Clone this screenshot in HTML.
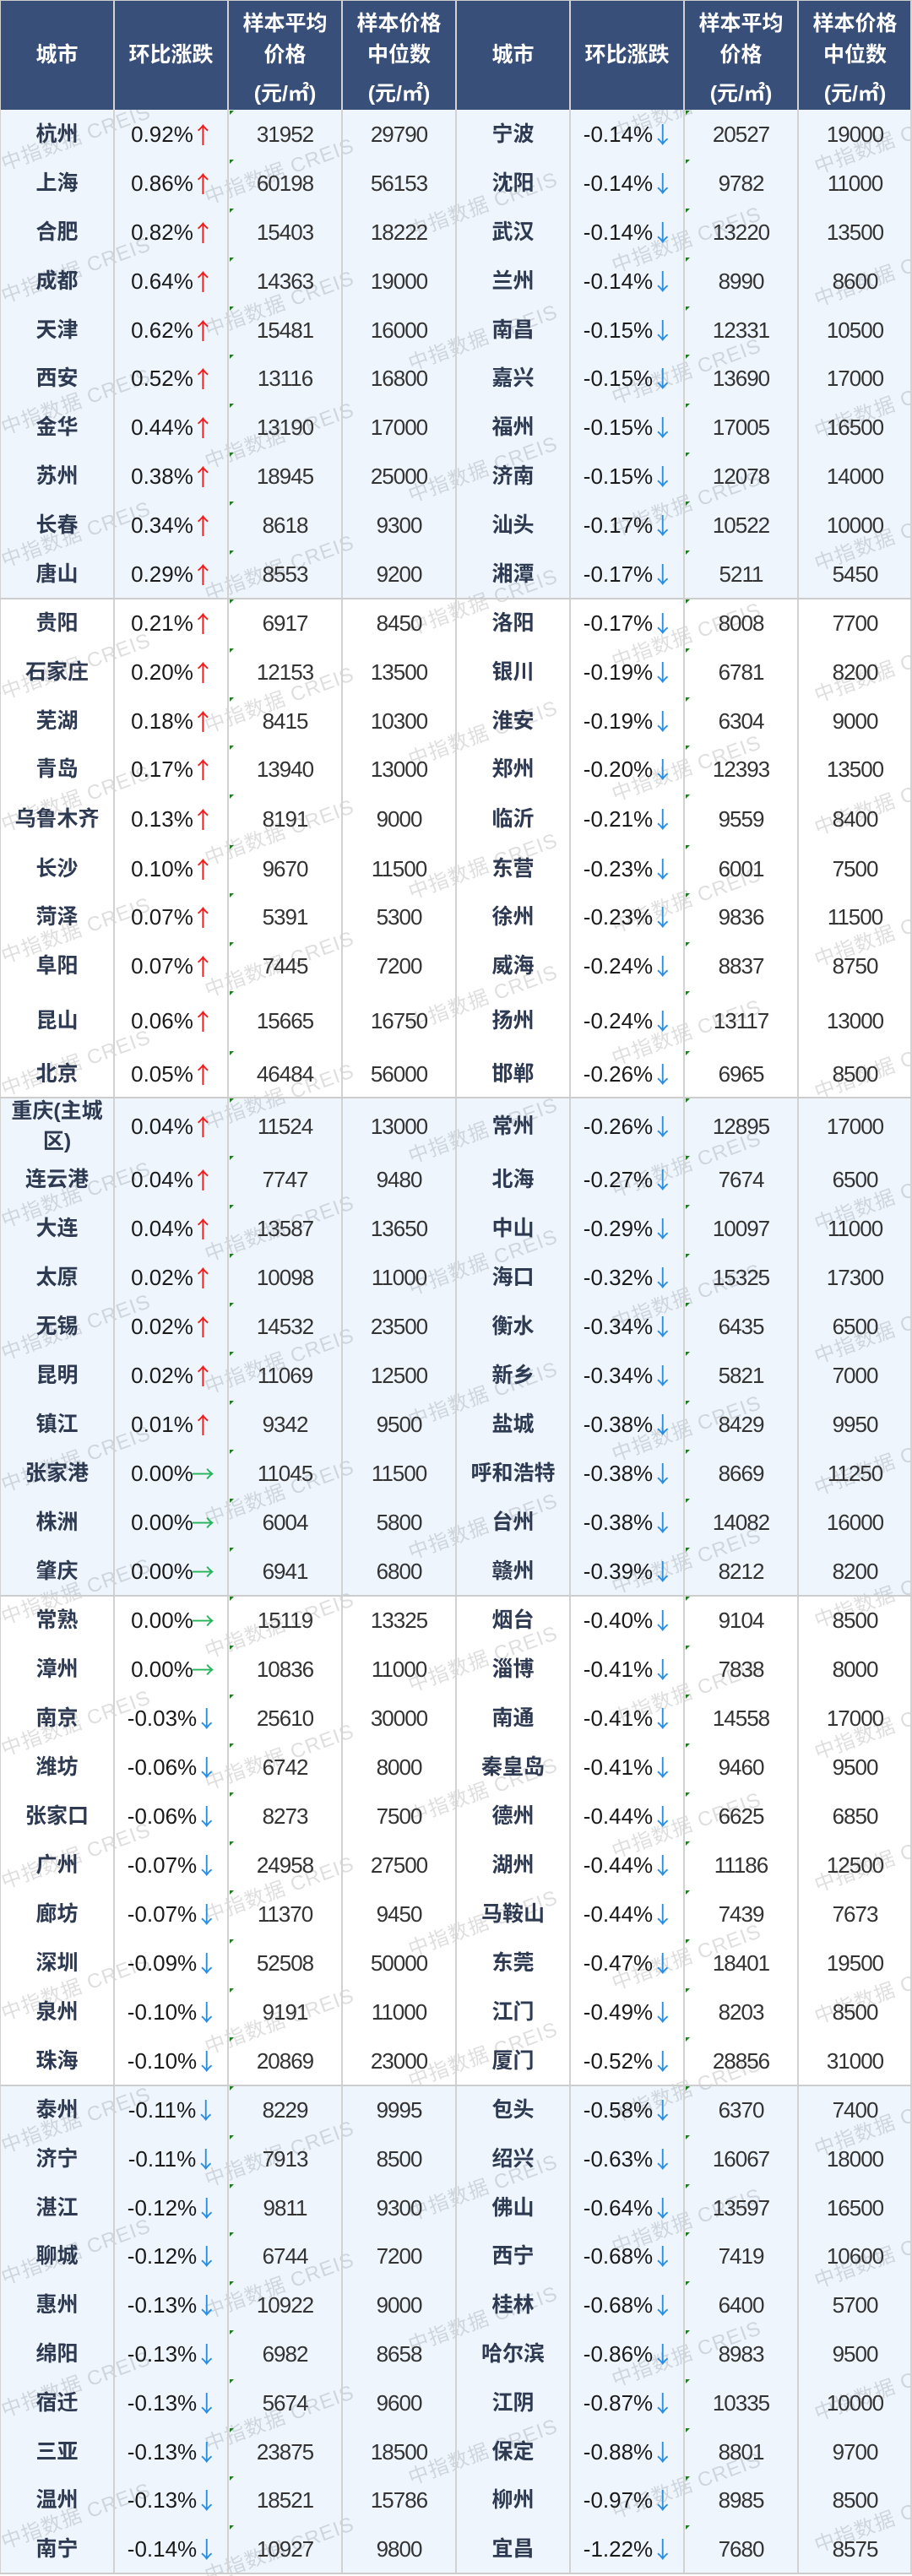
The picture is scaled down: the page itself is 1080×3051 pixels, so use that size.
<!DOCTYPE html>
<html><head><meta charset="utf-8">
<style>
html,body{margin:0;padding:0;width:1080px;height:3051px;overflow:hidden;background:#fff}
#t{position:relative;width:1080px;height:3051px;overflow:hidden;background:#fff;font-family:"Liberation Sans","Noto Sans CJK SC",sans-serif}
.bg{position:absolute;left:0;width:1080px;background:#eef5fd;z-index:0}
.wm{position:absolute;left:0;top:0;width:1080px;height:3051px;overflow:hidden;z-index:1}
.hdr{position:absolute;left:0;top:0;width:1080px;height:130px;background:#384f7a;z-index:2}
.hc{position:absolute;top:0;width:135px;height:130px;color:#fff;font-weight:bold;font-size:25px}
.hc div{position:absolute;left:0;width:135px;text-align:center;line-height:36px;white-space:nowrap}
.row{position:absolute;left:0;width:1080px;display:flex;z-index:3}
.row>div{width:135px;flex:none;display:flex;align-items:center;justify-content:center;position:relative;white-space:nowrap;line-height:30px}
.c{font-weight:bold;font-size:25px;color:#2e3a52}
.c2{line-height:36px!important;text-align:center}
.p{font-size:26px;color:#1a1a1a}
.n{font-size:26px;color:#333;letter-spacing:-1px}
.g::before{content:"";position:absolute;left:2px;top:1px;border-top:5px solid #1f7f1f;border-right:5px solid transparent}
.u,.d,.e{font-family:"Noto Sans CJK SC","Liberation Sans",sans-serif;font-size:27px;margin-left:-2px;margin-right:-4px;letter-spacing:0}
.u{color:#f21b1b}.d{color:#2a8ee0}.e{color:#25b45a}
.vl{position:absolute;top:0;width:2px;height:3049px;background:#d2d2d2;z-index:4}
.hl{position:absolute;left:0;width:1080px;height:2px;background:#cdcdcd;z-index:4}
.wc{position:absolute}
.w{height:156.5px;position:relative;width:10px}
.w span{position:absolute;left:0;bottom:0;transform:rotate(-20deg);transform-origin:0 100%;font-size:24px;line-height:24px;color:rgba(0,0,0,.13);white-space:nowrap;letter-spacing:1px}
</style></head><body>
<div id="t">
<div class="bg" style="top:130px;height:579px"></div>
<div class="bg" style="top:1300px;height:590px"></div>
<div class="bg" style="top:2470px;height:578px"></div>

<div class="wm">
<div class="wc" style="left:7px;top:-106px"><div class="w"><span>中指数据 CREIS</span></div><div class="w"><span>中指数据 CREIS</span></div><div class="w"><span>中指数据 CREIS</span></div><div class="w"><span>中指数据 CREIS</span></div><div class="w"><span>中指数据 CREIS</span></div><div class="w"><span>中指数据 CREIS</span></div><div class="w"><span>中指数据 CREIS</span></div><div class="w"><span>中指数据 CREIS</span></div><div class="w"><span>中指数据 CREIS</span></div><div class="w"><span>中指数据 CREIS</span></div><div class="w"><span>中指数据 CREIS</span></div><div class="w"><span>中指数据 CREIS</span></div><div class="w"><span>中指数据 CREIS</span></div><div class="w"><span>中指数据 CREIS</span></div><div class="w"><span>中指数据 CREIS</span></div><div class="w"><span>中指数据 CREIS</span></div><div class="w"><span>中指数据 CREIS</span></div><div class="w"><span>中指数据 CREIS</span></div><div class="w"><span>中指数据 CREIS</span></div><div class="w"><span>中指数据 CREIS</span></div></div>
<div class="wc" style="left:248px;top:-66px"><div class="w"><span>中指数据 CREIS</span></div><div class="w"><span>中指数据 CREIS</span></div><div class="w"><span>中指数据 CREIS</span></div><div class="w"><span>中指数据 CREIS</span></div><div class="w"><span>中指数据 CREIS</span></div><div class="w"><span>中指数据 CREIS</span></div><div class="w"><span>中指数据 CREIS</span></div><div class="w"><span>中指数据 CREIS</span></div><div class="w"><span>中指数据 CREIS</span></div><div class="w"><span>中指数据 CREIS</span></div><div class="w"><span>中指数据 CREIS</span></div><div class="w"><span>中指数据 CREIS</span></div><div class="w"><span>中指数据 CREIS</span></div><div class="w"><span>中指数据 CREIS</span></div><div class="w"><span>中指数据 CREIS</span></div><div class="w"><span>中指数据 CREIS</span></div><div class="w"><span>中指数据 CREIS</span></div><div class="w"><span>中指数据 CREIS</span></div><div class="w"><span>中指数据 CREIS</span></div><div class="w"><span>中指数据 CREIS</span></div></div>
<div class="wc" style="left:489px;top:-26px"><div class="w"><span>中指数据 CREIS</span></div><div class="w"><span>中指数据 CREIS</span></div><div class="w"><span>中指数据 CREIS</span></div><div class="w"><span>中指数据 CREIS</span></div><div class="w"><span>中指数据 CREIS</span></div><div class="w"><span>中指数据 CREIS</span></div><div class="w"><span>中指数据 CREIS</span></div><div class="w"><span>中指数据 CREIS</span></div><div class="w"><span>中指数据 CREIS</span></div><div class="w"><span>中指数据 CREIS</span></div><div class="w"><span>中指数据 CREIS</span></div><div class="w"><span>中指数据 CREIS</span></div><div class="w"><span>中指数据 CREIS</span></div><div class="w"><span>中指数据 CREIS</span></div><div class="w"><span>中指数据 CREIS</span></div><div class="w"><span>中指数据 CREIS</span></div><div class="w"><span>中指数据 CREIS</span></div><div class="w"><span>中指数据 CREIS</span></div><div class="w"><span>中指数据 CREIS</span></div></div>
<div class="wc" style="left:730px;top:-142px"><div class="w"><span>中指数据 CREIS</span></div><div class="w"><span>中指数据 CREIS</span></div><div class="w"><span>中指数据 CREIS</span></div><div class="w"><span>中指数据 CREIS</span></div><div class="w"><span>中指数据 CREIS</span></div><div class="w"><span>中指数据 CREIS</span></div><div class="w"><span>中指数据 CREIS</span></div><div class="w"><span>中指数据 CREIS</span></div><div class="w"><span>中指数据 CREIS</span></div><div class="w"><span>中指数据 CREIS</span></div><div class="w"><span>中指数据 CREIS</span></div><div class="w"><span>中指数据 CREIS</span></div><div class="w"><span>中指数据 CREIS</span></div><div class="w"><span>中指数据 CREIS</span></div><div class="w"><span>中指数据 CREIS</span></div><div class="w"><span>中指数据 CREIS</span></div><div class="w"><span>中指数据 CREIS</span></div><div class="w"><span>中指数据 CREIS</span></div><div class="w"><span>中指数据 CREIS</span></div><div class="w"><span>中指数据 CREIS</span></div></div>
<div class="wc" style="left:970px;top:-102px"><div class="w"><span>中指数据 CREIS</span></div><div class="w"><span>中指数据 CREIS</span></div><div class="w"><span>中指数据 CREIS</span></div><div class="w"><span>中指数据 CREIS</span></div><div class="w"><span>中指数据 CREIS</span></div><div class="w"><span>中指数据 CREIS</span></div><div class="w"><span>中指数据 CREIS</span></div><div class="w"><span>中指数据 CREIS</span></div><div class="w"><span>中指数据 CREIS</span></div><div class="w"><span>中指数据 CREIS</span></div><div class="w"><span>中指数据 CREIS</span></div><div class="w"><span>中指数据 CREIS</span></div><div class="w"><span>中指数据 CREIS</span></div><div class="w"><span>中指数据 CREIS</span></div><div class="w"><span>中指数据 CREIS</span></div><div class="w"><span>中指数据 CREIS</span></div><div class="w"><span>中指数据 CREIS</span></div><div class="w"><span>中指数据 CREIS</span></div><div class="w"><span>中指数据 CREIS</span></div><div class="w"><span>中指数据 CREIS</span></div></div>
</div>

<div class="hdr">
<div class="hc" style="left:0"><div style="top:47px">城市</div></div>
<div class="hc" style="left:135px"><div style="top:47px">环比涨跌</div></div>
<div class="hc" style="left:270px"><div style="top:10px">样本平均</div><div style="top:47px">价格</div><div style="top:93px">(元/㎡)</div></div>
<div class="hc" style="left:405px"><div style="top:10px">样本价格</div><div style="top:47px">中位数</div><div style="top:93px">(元/㎡)</div></div>
<div class="hc" style="left:540px"><div style="top:47px">城市</div></div>
<div class="hc" style="left:675px"><div style="top:47px">环比涨跌</div></div>
<div class="hc" style="left:810px"><div style="top:10px">样本平均</div><div style="top:47px">价格</div><div style="top:93px">(元/㎡)</div></div>
<div class="hc" style="left:945px"><div style="top:10px">样本价格</div><div style="top:47px">中位数</div><div style="top:93px">(元/㎡)</div></div>
</div>

<!-- Group 1 -->
<div class="row" style="top:130px;height:58px"><div class="c">杭州</div><div class="p">0.92%<span class="u">↑</span></div><div class="n g">31952</div><div class="n">29790</div><div class="c">宁波</div><div class="p">-0.14%<span class="d">↓</span></div><div class="n g">20527</div><div class="n">19000</div></div>
<div class="row" style="top:188px;height:58px"><div class="c">上海</div><div class="p">0.86%<span class="u">↑</span></div><div class="n g">60198</div><div class="n">56153</div><div class="c">沈阳</div><div class="p">-0.14%<span class="d">↓</span></div><div class="n g">9782</div><div class="n">11000</div></div>
<div class="row" style="top:246px;height:58px"><div class="c">合肥</div><div class="p">0.82%<span class="u">↑</span></div><div class="n g">15403</div><div class="n">18222</div><div class="c">武汉</div><div class="p">-0.14%<span class="d">↓</span></div><div class="n g">13220</div><div class="n">13500</div></div>
<div class="row" style="top:304px;height:58px"><div class="c">成都</div><div class="p">0.64%<span class="u">↑</span></div><div class="n g">14363</div><div class="n">19000</div><div class="c">兰州</div><div class="p">-0.14%<span class="d">↓</span></div><div class="n g">8990</div><div class="n">8600</div></div>
<div class="row" style="top:362px;height:57px"><div class="c">天津</div><div class="p">0.62%<span class="u">↑</span></div><div class="n g">15481</div><div class="n">16000</div><div class="c">南昌</div><div class="p">-0.15%<span class="d">↓</span></div><div class="n g">12331</div><div class="n">10500</div></div>
<div class="row" style="top:419px;height:58px"><div class="c">西安</div><div class="p">0.52%<span class="u">↑</span></div><div class="n g">13116</div><div class="n">16800</div><div class="c">嘉兴</div><div class="p">-0.15%<span class="d">↓</span></div><div class="n g">13690</div><div class="n">17000</div></div>
<div class="row" style="top:477px;height:58px"><div class="c">金华</div><div class="p">0.44%<span class="u">↑</span></div><div class="n g">13190</div><div class="n">17000</div><div class="c">福州</div><div class="p">-0.15%<span class="d">↓</span></div><div class="n g">17005</div><div class="n">16500</div></div>
<div class="row" style="top:535px;height:58px"><div class="c">苏州</div><div class="p">0.38%<span class="u">↑</span></div><div class="n g">18945</div><div class="n">25000</div><div class="c">济南</div><div class="p">-0.15%<span class="d">↓</span></div><div class="n g">12078</div><div class="n">14000</div></div>
<div class="row" style="top:593px;height:58px"><div class="c">长春</div><div class="p">0.34%<span class="u">↑</span></div><div class="n g">8618</div><div class="n">9300</div><div class="c">汕头</div><div class="p">-0.17%<span class="d">↓</span></div><div class="n g">10522</div><div class="n">10000</div></div>
<div class="row" style="top:651px;height:58px"><div class="c">唐山</div><div class="p">0.29%<span class="u">↑</span></div><div class="n g">8553</div><div class="n">9200</div><div class="c">湘潭</div><div class="p">-0.17%<span class="d">↓</span></div><div class="n g">5211</div><div class="n">5450</div></div>

<!-- Group 2 -->
<div class="row" style="top:709px;height:58px"><div class="c">贵阳</div><div class="p">0.21%<span class="u">↑</span></div><div class="n g">6917</div><div class="n">8450</div><div class="c">洛阳</div><div class="p">-0.17%<span class="d">↓</span></div><div class="n g">8008</div><div class="n">7700</div></div>
<div class="row" style="top:767px;height:58px"><div class="c">石家庄</div><div class="p">0.20%<span class="u">↑</span></div><div class="n g">12153</div><div class="n">13500</div><div class="c">银川</div><div class="p">-0.19%<span class="d">↓</span></div><div class="n g">6781</div><div class="n">8200</div></div>
<div class="row" style="top:825px;height:57px"><div class="c">芜湖</div><div class="p">0.18%<span class="u">↑</span></div><div class="n g">8415</div><div class="n">10300</div><div class="c">淮安</div><div class="p">-0.19%<span class="d">↓</span></div><div class="n g">6304</div><div class="n">9000</div></div>
<div class="row" style="top:882px;height:58px"><div class="c">青岛</div><div class="p">0.17%<span class="u">↑</span></div><div class="n g">13940</div><div class="n">13000</div><div class="c">郑州</div><div class="p">-0.20%<span class="d">↓</span></div><div class="n g">12393</div><div class="n">13500</div></div>
<div class="row" style="top:940px;height:60px"><div class="c">乌鲁木齐</div><div class="p">0.13%<span class="u">↑</span></div><div class="n g">8191</div><div class="n">9000</div><div class="c">临沂</div><div class="p">-0.21%<span class="d">↓</span></div><div class="n g">9559</div><div class="n">8400</div></div>
<div class="row" style="top:1000px;height:57px"><div class="c">长沙</div><div class="p">0.10%<span class="u">↑</span></div><div class="n g">9670</div><div class="n">11500</div><div class="c">东营</div><div class="p">-0.23%<span class="d">↓</span></div><div class="n g">6001</div><div class="n">7500</div></div>
<div class="row" style="top:1057px;height:58px"><div class="c">菏泽</div><div class="p">0.07%<span class="u">↑</span></div><div class="n g">5391</div><div class="n">5300</div><div class="c">徐州</div><div class="p">-0.23%<span class="d">↓</span></div><div class="n g">9836</div><div class="n">11500</div></div>
<div class="row" style="top:1115px;height:58px"><div class="c">阜阳</div><div class="p">0.07%<span class="u">↑</span></div><div class="n g">7445</div><div class="n">7200</div><div class="c">威海</div><div class="p">-0.24%<span class="d">↓</span></div><div class="n g">8837</div><div class="n">8750</div></div>
<div class="row" style="top:1173px;height:71px"><div class="c">昆山</div><div class="p">0.06%<span class="u">↑</span></div><div class="n g">15665</div><div class="n">16750</div><div class="c">扬州</div><div class="p">-0.24%<span class="d">↓</span></div><div class="n g">13117</div><div class="n">13000</div></div>
<div class="row" style="top:1244px;height:56px"><div class="c">北京</div><div class="p">0.05%<span class="u">↑</span></div><div class="n g">46484</div><div class="n">56000</div><div class="c">邯郸</div><div class="p">-0.26%<span class="d">↓</span></div><div class="n g">6965</div><div class="n">8500</div></div>

<!-- Group 3 -->
<div class="row" style="top:1300px;height:68px"><div class="c c2">重庆(主城<br>区)</div><div class="p">0.04%<span class="u">↑</span></div><div class="n g">11524</div><div class="n">13000</div><div class="c">常州</div><div class="p">-0.26%<span class="d">↓</span></div><div class="n g">12895</div><div class="n">17000</div></div>
<div class="row" style="top:1368px;height:58px"><div class="c">连云港</div><div class="p">0.04%<span class="u">↑</span></div><div class="n g">7747</div><div class="n">9480</div><div class="c">北海</div><div class="p">-0.27%<span class="d">↓</span></div><div class="n g">7674</div><div class="n">6500</div></div>
<div class="row" style="top:1426px;height:58px"><div class="c">大连</div><div class="p">0.04%<span class="u">↑</span></div><div class="n g">13587</div><div class="n">13650</div><div class="c">中山</div><div class="p">-0.29%<span class="d">↓</span></div><div class="n g">10097</div><div class="n">11000</div></div>
<div class="row" style="top:1484px;height:58px"><div class="c">太原</div><div class="p">0.02%<span class="u">↑</span></div><div class="n g">10098</div><div class="n">11000</div><div class="c">海口</div><div class="p">-0.32%<span class="d">↓</span></div><div class="n g">15325</div><div class="n">17300</div></div>
<div class="row" style="top:1542px;height:58px"><div class="c">无锡</div><div class="p">0.02%<span class="u">↑</span></div><div class="n g">14532</div><div class="n">23500</div><div class="c">衡水</div><div class="p">-0.34%<span class="d">↓</span></div><div class="n g">6435</div><div class="n">6500</div></div>
<div class="row" style="top:1600px;height:58px"><div class="c">昆明</div><div class="p">0.02%<span class="u">↑</span></div><div class="n g">11069</div><div class="n">12500</div><div class="c">新乡</div><div class="p">-0.34%<span class="d">↓</span></div><div class="n g">5821</div><div class="n">7000</div></div>
<div class="row" style="top:1658px;height:58px"><div class="c">镇江</div><div class="p">0.01%<span class="u">↑</span></div><div class="n g">9342</div><div class="n">9500</div><div class="c">盐城</div><div class="p">-0.38%<span class="d">↓</span></div><div class="n g">8429</div><div class="n">9950</div></div>
<div class="row" style="top:1716px;height:58px"><div class="c">张家港</div><div class="p">0.00%<span class="e">→</span></div><div class="n g">11045</div><div class="n">11500</div><div class="c">呼和浩特</div><div class="p">-0.38%<span class="d">↓</span></div><div class="n g">8669</div><div class="n">11250</div></div>
<div class="row" style="top:1774px;height:58px"><div class="c">株洲</div><div class="p">0.00%<span class="e">→</span></div><div class="n g">6004</div><div class="n">5800</div><div class="c">台州</div><div class="p">-0.38%<span class="d">↓</span></div><div class="n g">14082</div><div class="n">16000</div></div>
<div class="row" style="top:1832px;height:58px"><div class="c">肇庆</div><div class="p">0.00%<span class="e">→</span></div><div class="n g">6941</div><div class="n">6800</div><div class="c">赣州</div><div class="p">-0.39%<span class="d">↓</span></div><div class="n g">8212</div><div class="n">8200</div></div>

<!-- Group 4 -->
<div class="row" style="top:1890px;height:58px"><div class="c">常熟</div><div class="p">0.00%<span class="e">→</span></div><div class="n g">15119</div><div class="n">13325</div><div class="c">烟台</div><div class="p">-0.40%<span class="d">↓</span></div><div class="n g">9104</div><div class="n">8500</div></div>
<div class="row" style="top:1948px;height:58px"><div class="c">漳州</div><div class="p">0.00%<span class="e">→</span></div><div class="n g">10836</div><div class="n">11000</div><div class="c">淄博</div><div class="p">-0.41%<span class="d">↓</span></div><div class="n g">7838</div><div class="n">8000</div></div>
<div class="row" style="top:2006px;height:58px"><div class="c">南京</div><div class="p">-0.03%<span class="d">↓</span></div><div class="n g">25610</div><div class="n">30000</div><div class="c">南通</div><div class="p">-0.41%<span class="d">↓</span></div><div class="n g">14558</div><div class="n">17000</div></div>
<div class="row" style="top:2064px;height:58px"><div class="c">潍坊</div><div class="p">-0.06%<span class="d">↓</span></div><div class="n g">6742</div><div class="n">8000</div><div class="c">秦皇岛</div><div class="p">-0.41%<span class="d">↓</span></div><div class="n g">9460</div><div class="n">9500</div></div>
<div class="row" style="top:2122px;height:58px"><div class="c">张家口</div><div class="p">-0.06%<span class="d">↓</span></div><div class="n g">8273</div><div class="n">7500</div><div class="c">德州</div><div class="p">-0.44%<span class="d">↓</span></div><div class="n g">6625</div><div class="n">6850</div></div>
<div class="row" style="top:2180px;height:58px"><div class="c">广州</div><div class="p">-0.07%<span class="d">↓</span></div><div class="n g">24958</div><div class="n">27500</div><div class="c">湖州</div><div class="p">-0.44%<span class="d">↓</span></div><div class="n g">11186</div><div class="n">12500</div></div>
<div class="row" style="top:2238px;height:58px"><div class="c">廊坊</div><div class="p">-0.07%<span class="d">↓</span></div><div class="n g">11370</div><div class="n">9450</div><div class="c">马鞍山</div><div class="p">-0.44%<span class="d">↓</span></div><div class="n g">7439</div><div class="n">7673</div></div>
<div class="row" style="top:2296px;height:58px"><div class="c">深圳</div><div class="p">-0.09%<span class="d">↓</span></div><div class="n g">52508</div><div class="n">50000</div><div class="c">东莞</div><div class="p">-0.47%<span class="d">↓</span></div><div class="n g">18401</div><div class="n">19500</div></div>
<div class="row" style="top:2354px;height:58px"><div class="c">泉州</div><div class="p">-0.10%<span class="d">↓</span></div><div class="n g">9191</div><div class="n">11000</div><div class="c">江门</div><div class="p">-0.49%<span class="d">↓</span></div><div class="n g">8203</div><div class="n">8500</div></div>
<div class="row" style="top:2412px;height:58px"><div class="c">珠海</div><div class="p">-0.10%<span class="d">↓</span></div><div class="n g">20869</div><div class="n">23000</div><div class="c">厦门</div><div class="p">-0.52%<span class="d">↓</span></div><div class="n g">28856</div><div class="n">31000</div></div>

<!-- Group 5 -->
<div class="row" style="top:2470px;height:58px"><div class="c">泰州</div><div class="p">-0.11%<span class="d">↓</span></div><div class="n g">8229</div><div class="n">9995</div><div class="c">包头</div><div class="p">-0.58%<span class="d">↓</span></div><div class="n g">6370</div><div class="n">7400</div></div>
<div class="row" style="top:2528px;height:58px"><div class="c">济宁</div><div class="p">-0.11%<span class="d">↓</span></div><div class="n g">7913</div><div class="n">8500</div><div class="c">绍兴</div><div class="p">-0.63%<span class="d">↓</span></div><div class="n g">16067</div><div class="n">18000</div></div>
<div class="row" style="top:2586px;height:57px"><div class="c">湛江</div><div class="p">-0.12%<span class="d">↓</span></div><div class="n g">9811</div><div class="n">9300</div><div class="c">佛山</div><div class="p">-0.64%<span class="d">↓</span></div><div class="n g">13597</div><div class="n">16500</div></div>
<div class="row" style="top:2643px;height:58px"><div class="c">聊城</div><div class="p">-0.12%<span class="d">↓</span></div><div class="n g">6744</div><div class="n">7200</div><div class="c">西宁</div><div class="p">-0.68%<span class="d">↓</span></div><div class="n g">7419</div><div class="n">10600</div></div>
<div class="row" style="top:2701px;height:58px"><div class="c">惠州</div><div class="p">-0.13%<span class="d">↓</span></div><div class="n g">10922</div><div class="n">9000</div><div class="c">桂林</div><div class="p">-0.68%<span class="d">↓</span></div><div class="n g">6400</div><div class="n">5700</div></div>
<div class="row" style="top:2759px;height:58px"><div class="c">绵阳</div><div class="p">-0.13%<span class="d">↓</span></div><div class="n g">6982</div><div class="n">8658</div><div class="c">哈尔滨</div><div class="p">-0.86%<span class="d">↓</span></div><div class="n g">8983</div><div class="n">9500</div></div>
<div class="row" style="top:2817px;height:58px"><div class="c">宿迁</div><div class="p">-0.13%<span class="d">↓</span></div><div class="n g">5674</div><div class="n">9600</div><div class="c">江阴</div><div class="p">-0.87%<span class="d">↓</span></div><div class="n g">10335</div><div class="n">10000</div></div>
<div class="row" style="top:2875px;height:57px"><div class="c">三亚</div><div class="p">-0.13%<span class="d">↓</span></div><div class="n g">23875</div><div class="n">18500</div><div class="c">保定</div><div class="p">-0.88%<span class="d">↓</span></div><div class="n g">8801</div><div class="n">9700</div></div>
<div class="row" style="top:2932px;height:58px"><div class="c">温州</div><div class="p">-0.13%<span class="d">↓</span></div><div class="n g">18521</div><div class="n">15786</div><div class="c">柳州</div><div class="p">-0.97%<span class="d">↓</span></div><div class="n g">8985</div><div class="n">8500</div></div>
<div class="row" style="top:2990px;height:57px"><div class="c">南宁</div><div class="p">-0.14%<span class="d">↓</span></div><div class="n g">10927</div><div class="n">9800</div><div class="c">宜昌</div><div class="p">-1.22%<span class="d">↓</span></div><div class="n g">7680</div><div class="n">8575</div></div>

<!-- grid lines -->
<div class="vl" style="left:0;width:1px"></div>
<div class="vl" style="left:134px"></div>
<div class="vl" style="left:269px"></div>
<div class="vl" style="left:404px"></div>
<div class="vl" style="left:539px"></div>
<div class="vl" style="left:674px"></div>
<div class="vl" style="left:809px"></div>
<div class="vl" style="left:944px"></div>
<div class="vl" style="left:1078px"></div>
<div class="hl" style="top:0;height:1px"></div>
<div class="hl" style="top:708px"></div>
<div class="hl" style="top:1299px"></div>
<div class="hl" style="top:1889px"></div>
<div class="hl" style="top:2469px"></div>
<div class="hl" style="top:3047px"></div>
</div>
</body></html>
